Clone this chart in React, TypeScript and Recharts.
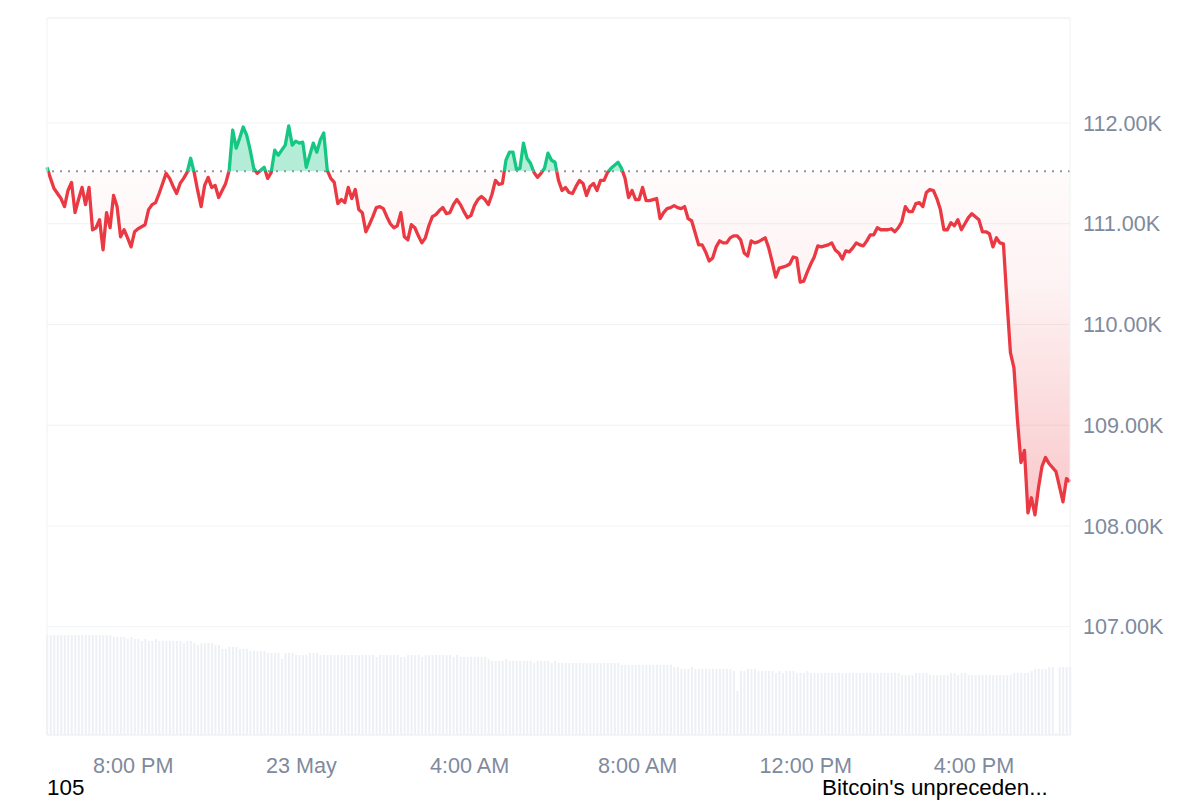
import React from "react";
import {
  ComposedChart,
  Area,
  Bar,
  XAxis,
  YAxis,
  CartesianGrid,
  ReferenceLine,
} from "recharts";

// minutes since 00:00 on 22 May, one point every 5 minutes
const START_MIN = 1077;
const STEP_MIN = 5;

const BASELINE = 111520;

const PRICES = [
  111560, 111450, 111350, 111300, 111250, 111170, 111330, 111410, 111110, 111240,
  111360, 111190, 111360, 110940, 110960, 111040, 110740, 111110, 110960, 111280,
  111170, 110870, 110940, 110860, 110770, 110920, 110950, 110970, 110990, 111140,
  111190, 111210, 111300, 111400, 111500, 111450, 111370, 111300, 111400, 111450,
  111510, 111650, 111510, 111330, 111170, 111380, 111460, 111360, 111380, 111260,
  111330, 111400, 111530, 111930, 111750, 111850, 111960, 111880, 111730, 111550,
  111500, 111530, 111560, 111450, 111510, 111730, 111680, 111730, 111780, 111970,
  111780, 111820, 111800, 111810, 111560, 111680, 111800, 111710, 111830, 111900,
  111530, 111450, 111410, 111200, 111240, 111210, 111360, 111250, 111340, 111140,
  111110, 110920, 110990, 111070, 111160, 111170, 111150, 111070, 111000, 110960,
  110980, 111110, 110870, 110840, 110990, 110960, 110880, 110810, 110860, 110980,
  111070, 111090, 111130, 111160, 111100, 111110, 111190, 111240, 111190, 111120,
  111060, 111080, 111180, 111240, 111270, 111240, 111190, 111290, 111430, 111390,
  111400, 111630, 111710, 111710, 111540, 111550, 111800, 111650, 111600, 111510,
  111460, 111500, 111550, 111700, 111630, 111610, 111430, 111330, 111360, 111310,
  111300, 111370, 111430, 111400, 111280, 111370, 111400, 111330, 111430, 111430,
  111510, 111550, 111580, 111610, 111550, 111450, 111260, 111330, 111240, 111240,
  111360, 111230, 111230, 111240, 111250, 111050, 111110, 111150, 111160, 111180,
  111160, 111150, 111170, 111050, 111030, 110910, 110790, 110790, 110720, 110630,
  110660, 110770, 110830, 110810, 110810, 110860, 110880, 110880, 110840, 110710,
  110680, 110830, 110810, 110820, 110840, 110860, 110760, 110620, 110470, 110560,
  110570, 110580, 110600, 110670, 110660, 110420, 110430, 110520, 110600, 110670,
  110780, 110770, 110780, 110790, 110810, 110740, 110710, 110650, 110730, 110720,
  110760, 110810, 110790, 110780, 110830, 110890, 110890, 110960, 110940, 110940,
  110940, 110950, 110920, 110960, 111020, 111170, 111120, 111120, 111200, 111210,
  111170, 111310, 111340, 111330, 111250, 111140, 110940, 110940, 111010, 110980,
  111040, 110940, 111000, 111060, 111100, 111070, 111040, 110920, 110920, 110900,
  110770, 110860, 110810, 110800, 110240, 109720, 109570, 109050, 108630, 108750,
  108130, 108280, 108110, 108380, 108590, 108680, 108620, 108580, 108540, 108390,
  108240, 108470, 108440,
];

// 24h volume, billions
const VOLUMES = [
  50, 50, 50, 50, 50, 50, 50, 50, 50, 50,
  50, 50, 50, 50, 50, 50, 50, 50, 50, 49,
  49, 49, 49, 48, 49, 48, 48, 47, 48, 47,
  47, 48, 47, 47, 47, 47, 47, 47, 47, 46,
  47, 47, 46, 45, 46, 46, 46, 46, 45, 45,
  43, 43, 44, 44, 44, 43, 43, 43, 42, 42,
  42, 42, 42, 41, 41, 41, 41, 38, 41, 41,
  41, 40, 40, 40, 40, 41, 41, 41, 40, 40,
  40, 40, 40, 40, 40, 40, 40, 40, 40, 40,
  40, 40, 40, 40, 39, 40, 40, 40, 40, 40,
  40, 39, 39, 40, 40, 40, 40, 39, 40, 40,
  40, 40, 40, 40, 40, 40, 39, 40, 39, 39,
  39, 39, 39, 39, 39, 39, 38, 37, 37, 37,
  37, 38, 37, 37, 37, 37, 37, 37, 37, 36,
  37, 37, 37, 37, 36, 37, 36, 36, 36, 36,
  36, 36, 36, 36, 36, 36, 36, 36, 36, 36,
  36, 36, 36, 36, 35, 35, 35, 35, 35, 35,
  35, 35, 35, 35, 35, 35, 35, 35, 35, 34,
  34, 33, 33, 33, 34, 33, 33, 33, 33, 33,
  33, 33, 33, 33, 33, 33, 32, 22, 32, 32,
  33, 33, 33, 32, 32, 32, 32, 32, 31, 32,
  31, 32, 32, 32, 31, 31, 31, 32, 31, 31,
  31, 31, 31, 31, 31, 31, 31, 31, 31, 31,
  31, 31, 31, 31, 31, 31, 31, 31, 31, 31,
  31, 31, 31, 31, 30, 30, 30, 30, 31, 31,
  31, 31, 30, 30, 30, 30, 30, 30, 31, 31,
  30, 31, 31, 30, 30, 30, 30, 30, 30, 30,
  30, 30, 30, 30, 30, 30, 31, 31, 31, 31,
  31, 32, 33, 33, 33, 33, 34, 34, 1, 34,
  34, 34, 34,
];

const X_TICKS = [1200, 1440, 1680, 1920, 2160, 2400];
const Y_TICKS = [107000, 108000, 109000, 110000, 111000, 112000];
const Y_DOMAIN = [105925, 113042];
const VOL_DOMAIN = [0, 358.5];

const data = PRICES.map((p, i) => ({
  t: START_MIN + i * STEP_MIN,
  price: p,
  vol: VOLUMES[i],
}));

const maxP = Math.max(...PRICES);
const minP = Math.min(...PRICES);
const off = (maxP - BASELINE) / (maxP - minP);

const GREEN = "#16c784";
const RED = "#ea3943";
const GRID = "#eff2f5";
const LABEL = "#808a9d";
const FONT = "'Liberation Sans', Arial, sans-serif";

const fmtTime = (t: number) => {
  if (t === 1440) return "23 May";
  const h = Math.floor(t / 60) % 24;
  const ampm = h >= 12 ? "PM" : "AM";
  const h12 = h % 12 === 0 ? 12 : h % 12;
  return `${h12}:00 ${ampm}`;
};

const fmtPrice = (v: number) => `${(v / 1000).toFixed(2)}K`;

export default function App() {
  return (
    <div
      style={{
        position: "fixed",
        top: 0,
        left: 0,
        width: 1200,
        height: 800,
        background: "#fff",
        fontFamily: FONT,
      }}
    >
      <ComposedChart
        width={1200}
        height={800}
        data={data}
        margin={{ top: 18, right: 0, bottom: 0, left: 47 }}
      >
        <defs>
          <linearGradient id="strokeGrad" x1="0" y1="0" x2="0" y2="1">
            <stop offset={0} stopColor={GREEN} />
            <stop offset={off} stopColor={GREEN} />
            <stop offset={off} stopColor={RED} />
            <stop offset={1} stopColor={RED} />
          </linearGradient>
          <linearGradient id="fillGrad" x1="0" y1="0" x2="0" y2="1">
            <stop offset={0} stopColor={GREEN} stopOpacity={0.32} />
            <stop offset={off} stopColor={GREEN} stopOpacity={0.32} />
            <stop offset={off} stopColor={RED} stopOpacity={0.02} />
            <stop offset={0.4} stopColor={RED} stopOpacity={0.06} />
            <stop offset={1} stopColor={RED} stopOpacity={0.28} />
          </linearGradient>
        </defs>
        <CartesianGrid vertical={false} stroke={GRID} yAxisId="p" />
        <XAxis
          dataKey="t"
          type="number"
          domain={["dataMin", "dataMax"]}
          ticks={X_TICKS}
          tickFormatter={fmtTime}
          height={65}
          tickLine={false}
          tickSize={0}
          tickMargin={23}
          axisLine={{ stroke: GRID }}
          tick={{ fill: LABEL, fontSize: 21.6, fontFamily: FONT }}
        />
        <YAxis
          yAxisId="p"
          orientation="right"
          width={130}
          domain={Y_DOMAIN}
          ticks={Y_TICKS}
          allowDataOverflow
          tickFormatter={fmtPrice}
          tickLine={false}
          tickSize={0}
          tickMargin={13}
          axisLine={{ stroke: GRID }}
          tick={{ fill: LABEL, fontSize: 21.6, fontFamily: FONT }}
        />
        <YAxis yAxisId="v" hide domain={VOL_DOMAIN} />
        <ReferenceLine yAxisId="p" y={Y_DOMAIN[1]} stroke={GRID} />
        <ReferenceLine yAxisId="p" x={data[0].t} stroke={GRID} />
        <Bar
          yAxisId="v"
          dataKey="vol"
          fill="#edf0f4"
          barSize={2}
          isAnimationActive={false}
        />
        <ReferenceLine
          yAxisId="p"
          y={BASELINE}
          stroke="#8f96a3"
          strokeWidth={2}
          strokeDasharray="2 6"
        />
        <Area
          yAxisId="p"
          type="linear"
          dataKey="price"
          baseValue={BASELINE}
          stroke="url(#strokeGrad)"
          strokeWidth={3.3}
          strokeLinejoin="round"
          fill="url(#fillGrad)"
          fillOpacity={1}
          dot={false}
          activeDot={false}
          isAnimationActive={false}
        />
      </ComposedChart>
      <div
        style={{
          position: "absolute",
          left: 47,
          top: 778.5,
          fontSize: 22.4,
          lineHeight: "18px",
          color: "#000",
        }}
      >
        105
      </div>
      <div
        style={{
          position: "absolute",
          left: 822,
          top: 778.5,
          fontSize: 22.4,
          lineHeight: "18px",
          color: "#000",
          whiteSpace: "nowrap",
        }}
      >
        Bitcoin's unpreceden...
      </div>
    </div>
  );
}
